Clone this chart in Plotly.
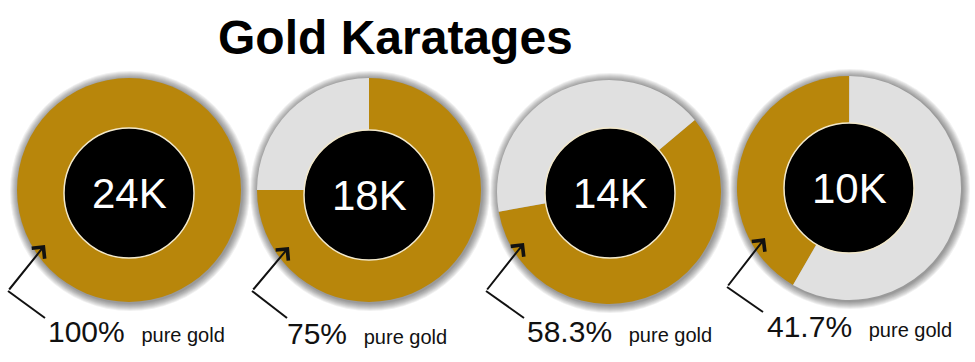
import plotly.graph_objects as go

# ---- data ----
karats = ["24K", "18K", "14K", "10K"]
gold_pct = [100, 75, 58.3, 41.7]
pct_labels = ["100%", "75%", "58.3%", "41.7%"]
caption = "pure gold"
title_text = "Gold Karatages"

# ---- styling / layout ----
W, H = 975, 362
GOLD = "#B8860B"
GREY = "#E0E0E0"
rotations = [0, 0, 50, 210]
centers = [(129, 190), (369, 190), (609, 192), (849, 188)]
inner_centers = [(129, 193), (369, 195), (610, 193), (849, 188)]
R_OUT = 112
R_IN = 65
arrows = [  # (label start, corner, tip) in pixels
    ((45, 318), (8, 291), (45, 245)),
    ((287, 318), (252, 291), (289, 247)),
    ((524, 318), (486, 291), (524, 243)),
    ((763, 312), (727, 287), (765, 238)),
]
label_pos = [(46, 331), (285, 333), (525, 331), (765, 326)]


def px(x):
    return x / W


def py(y):
    return 1 - y / H


def dom(cx, cy, r):
    return dict(x=[px(cx - r), px(cx + r)], y=[py(cy + r), py(cy - r)])


fig = go.Figure()

for i in range(4):
    cx, cy = centers[i]
    # soft shadow rings
    for k in range(8, 0, -1):
        fig.add_trace(go.Pie(values=[1], domain=dom(cx + 1, cy + 1, R_OUT + k), sort=False,
                             marker=dict(colors=["rgba(0,0,0,0.06)"], line=dict(width=0)),
                             textinfo="none", hoverinfo="skip", showlegend=False))
    fig.add_trace(go.Pie(
        values=[gold_pct[i], 100 - gold_pct[i]],
        labels=["gold", "other"],
        domain=dom(cx, cy, R_OUT), sort=False, direction="clockwise",
        rotation=rotations[i],
        marker=dict(colors=[GOLD, GREY], line=dict(width=0)),
        textinfo="none", showlegend=False))
    icx, icy = inner_centers[i]
    fig.add_trace(go.Pie(
        values=[1], domain=dom(icx, icy, R_IN), sort=False,
        marker=dict(colors=["#000000"], line=dict(color="#F3E9CC", width=1.5)),
        textinfo="none", hoverinfo="skip", showlegend=False))

annotations = []
shapes = []
annotations.append(dict(text="<b>" + title_text + "</b>", x=px(395), y=py(37),
                        xref="paper", yref="paper", xanchor="center", yanchor="middle",
                        showarrow=False,
                        font=dict(family="Liberation Sans", size=48, color="black")))
for i in range(4):
    icx, icy = inner_centers[i]
    annotations.append(dict(text=karats[i], x=px(icx), y=py(icy), xref="paper", yref="paper",
                            xanchor="center", yanchor="middle", showarrow=False,
                            font=dict(family="Liberation Sans", size=42, color="white")))
    lx, ly = label_pos[i]
    annotations.append(dict(
        text=pct_labels[i] + "\u00a0\u00a0<span style='font-size:20px'>" + caption + "</span>",
        x=px(lx), y=py(ly), xref="paper", yref="paper", xanchor="left", yanchor="middle",
        showarrow=False, font=dict(family="Liberation Sans", size=30, color="#111111")))
    (sx, sy), (kx, ky), (tx, ty) = arrows[i]
    shapes.append(dict(type="line", xref="paper", yref="paper",
                       x0=px(sx), y0=py(sy), x1=px(kx), y1=py(ky),
                       line=dict(color="#111111", width=2)))
    annotations.append(dict(text="", x=px(tx), y=py(ty), xref="paper", yref="paper",
                            ax=kx - tx, ay=ky - ty, showarrow=True, arrowhead=4,
                            arrowsize=1.6, arrowwidth=2, arrowcolor="#111111", standoff=0))

fig.update_layout(width=W, height=H, margin=dict(l=0, r=0, t=0, b=0, pad=0),
                  paper_bgcolor="white", plot_bgcolor="white",
                  annotations=annotations, shapes=shapes, showlegend=False)

fig.write_html("out.html", config={"displayModeBar": False},
               post_script="document.body.style.margin='0';document.body.style.padding='0';")
